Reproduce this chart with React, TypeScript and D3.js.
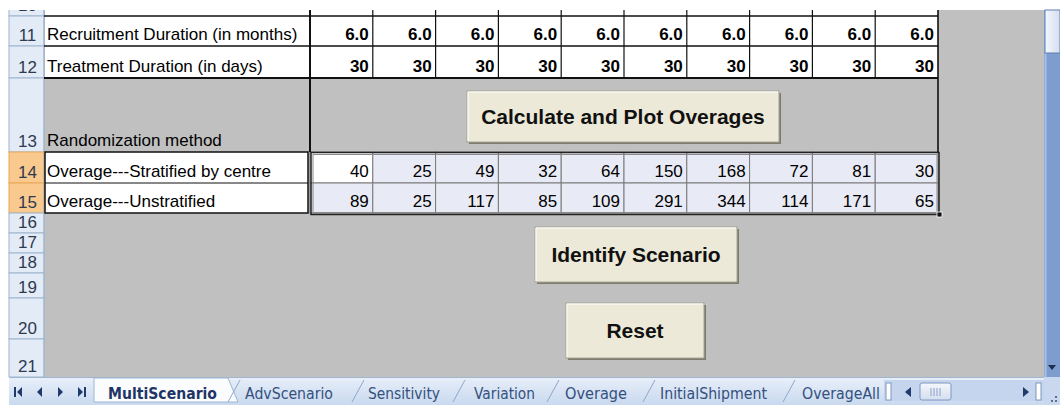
import React from 'react';
import * as d3 from 'd3';

const W = 1060;
const H = 405;

// sheet content
const rowNumbers = [10, 11, 12, 13, 14, 15, 16, 17, 18, 19, 20, 21];
const scenarios = ['S1', 'S2', 'S3', 'S4', 'S5', 'S6', 'S7', 'S8', 'S9', 'S10'];
const rowLabels = [
  'Risk Level',
  'Recruitment Duration (in months)',
  'Treatment Duration (in days)',
  'Randomization method',
  'Overage---Stratified by centre',
  'Overage---Unstratified',
];
const riskLevel = [0.05, 0.05, 0.05, 0.05, 0.05, 0.05, 0.05, 0.05, 0.05, 0.05];
const recruitment = [6.0, 6.0, 6.0, 6.0, 6.0, 6.0, 6.0, 6.0, 6.0, 6.0];
const treatment = [30, 30, 30, 30, 30, 30, 30, 30, 30, 30];
const stratified = [40, 25, 49, 32, 64, 150, 168, 72, 81, 30];
const unstratified = [89, 25, 117, 85, 109, 291, 344, 114, 171, 65];
const buttons = ['Calculate and Plot Overages', 'Identify Scenario', 'Reset'];
const sheetTabs = ['MultiScenario', 'AdvScenario', 'Sensitivity', 'Variation', 'Overage', 'InitialShipment', 'OverageAll'];

// layout
const rowHeights = [30, 30, 32, 74, 31, 30, 20, 20, 20, 25, 41, 38];
const headerX0 = 9;
const colA0 = 44;
const colA1 = 310;
const dataX1 = 938;
const tabBarY = 377;
const buttonBoxes = [
  [467, 91, 779, 142],
  [535, 227, 737, 282],
  [566, 303, 704, 358],
];
const tabTextX = [108, 245, 368, 474, 565, 660, 802];
const tabTextW = [109, 88, 72, 61, 62, 107, 78];
const tabSlashes = [228, 352, 453, 547, 643, 783];

const font = '"Liberation Sans", Arial, sans-serif';

export default function App() {
  const rowTop = d3.cumsum([-14, ...rowHeights.slice(0, -1)]);
  const y = (i: number) => rowTop[i];
  const rh = (i: number) => rowHeights[i];
  const x = d3.scaleBand<number>().domain(d3.range(scenarios.length)).range([colA1, dataX1]);

  const valueRows: [number, (number | string)[], boolean][] = [
    [0, riskLevel.map(d => d3.format('.2f')(d)), true],
    [1, recruitment.map(d => d3.format('.1f')(d)), true],
    [2, treatment, true],
    [4, stratified, false],
    [5, unstratified, false],
  ];

  const y14 = y(4);
  const y16 = y(6);

  return (
    <svg
      width={W}
      height={H}
      style={{ position: 'absolute', left: 0, top: 0, background: '#fff' }}
      fontFamily={font}
    >
      <defs>
        <clipPath id="sheet">
          <rect x={0} y={10} width={1044} height={tabBarY - 10} />
        </clipPath>
        <linearGradient id="tabbar" x1="0" y1="0" x2="0" y2="1">
          <stop offset="0" stopColor="#e9f0fa" />
          <stop offset="1" stopColor="#c9d9ef" />
        </linearGradient>
        <linearGradient id="tabInactive" x1="0" y1="0" x2="0" y2="1">
          <stop offset="0" stopColor="#e4ecf8" />
          <stop offset="1" stopColor="#cddcf0" />
        </linearGradient>
        <linearGradient id="thumb" x1="0" y1="0" x2="1" y2="0">
          <stop offset="0" stopColor="#f4f7fc" />
          <stop offset="1" stopColor="#d4deee" />
        </linearGradient>
        <linearGradient id="thumbH" x1="0" y1="0" x2="0" y2="1">
          <stop offset="0" stopColor="#f4f7fc" />
          <stop offset="1" stopColor="#d4deee" />
        </linearGradient>
      </defs>

      <g clipPath="url(#sheet)">
        {/* grey worksheet background */}
        <rect x={headerX0} y={0} width={1044 - headerX0} height={tabBarY} fill="#c0c0c0" />

        {/* row headers */}
        {rowNumbers.map((n, i) => {
          const sel = n === 14 || n === 15;
          return (
            <g key={n}>
              <rect
                x={headerX0}
                y={y(i)}
                width={colA0 - headerX0}
                height={rh(i)}
                fill={sel ? '#f9c98d' : '#e3ebf6'}
                stroke={sel ? '#e8a75a' : '#9eb6ce'}
                strokeWidth={1}
              />
              <text
                x={(headerX0 + colA0) / 2 + 1}
                y={y(i) + rh(i) - 5}
                textAnchor="middle"
                fontSize={17}
                fill="#2e3a50"
              >
                {n}
              </text>
            </g>
          );
        })}
        <line x1={colA0} x2={colA0} y1={0} y2={tabBarY} stroke="#9eb6ce" />

        {/* white cells rows 10-12 */}
        {[0, 1, 2].map(i => (
          <rect key={i} x={colA0 + 1} y={y(i)} width={dataX1 - colA0 - 1} height={rh(i)} fill="#fff" />
        ))}

        {/* column A rows 14-15 */}
        <rect x={colA0 + 1} y={y14} width={colA1 - colA0 - 3} height={y16 - y14} fill="#fff" stroke="#111" strokeWidth={1.5} />
        <line x1={colA0 + 1} x2={colA1 - 2} y1={y(5)} y2={y(5)} stroke="#111" strokeWidth={1} />

        {/* data block rows 14-15 */}
        {[4, 5].map(i =>
          scenarios.map((_, j) => (
            <rect
              key={`${i}-${j}`}
              x={x(j)!}
              y={y(i)}
              width={x.bandwidth()}
              height={rh(i)}
              fill={i === 4 && j === 0 ? '#fff' : '#e8eaf5'}
              stroke="#7a7a7a"
              strokeWidth={1}
            />
          ))
        )}
        <rect x={colA1 + 1} y={y14 + 0.5} width={dataX1 - colA1} height={y16 - y14 + 1} fill="none" stroke="#222" strokeWidth={1.5} />
        <rect x={colA1 + 3} y={y14 + 2.5} width={dataX1 - colA1 - 4} height={y16 - y14 - 3} fill="none" stroke="#8a8a8a" strokeWidth={1} />
        <rect x={dataX1 - 1} y={y16 - 1} width={5} height={5} fill="#111" stroke="#fff" strokeWidth={0.8} />

        {/* grid rows 10-12 */}
        {[0, 1, 2, 3].map(i => (
          <line key={i} x1={colA0} x2={dataX1} y1={y(i)} y2={y(i)} stroke="#111" strokeWidth={i === 3 ? 2 : 1.3} />
        ))}
        {scenarios.map((_, j) => (
          <line key={j} x1={x(j)!} x2={x(j)!} y1={y(0)} y2={y(3)} stroke="#111" strokeWidth={1.2} />
        ))}
        <line x1={colA1} x2={colA1} y1={y(0)} y2={y14} stroke="#111" strokeWidth={2} />
        <line x1={dataX1} x2={dataX1} y1={y(0)} y2={y14} stroke="#111" strokeWidth={1.6} />

        {/* labels */}
        {rowLabels.map((t, i) => (
          <text key={t} x={colA0 + 3} y={y(i) + rh(i) - 6} fontSize={17} fill="#000">
            {t}
          </text>
        ))}

        {/* values */}
        {valueRows.map(([ri, vals, bold]) =>
          vals.map((v, j) => (
            <text
              key={`${ri}-${j}`}
              x={x(j)! + x.bandwidth() - 4}
              y={y(ri) + rh(ri) - 6}
              textAnchor="end"
              fontSize={17}
              fontWeight={bold ? 'bold' : 'normal'}
              fill="#000"
            >
              {v}
            </text>
          ))
        )}

        {/* buttons */}
        {buttons.map((b, i) => {
          const [bx0, by0, bx1, by1] = buttonBoxes[i];
          return (
            <g key={b}>
              <rect x={bx0 + 2} y={by0 + 2} width={bx1 - bx0} height={by1 - by0} fill="#7d7a6e" />
              <rect x={bx0} y={by0} width={bx1 - bx0} height={by1 - by0} fill="#ece9d8" stroke="#a8a595" strokeWidth={1} />
              <line x1={bx0 + 1} x2={bx1 - 1} y1={by0 + 1} y2={by0 + 1} stroke="#fff" />
              <line x1={bx0 + 1} x2={bx0 + 1} y1={by0 + 1} y2={by1 - 1} stroke="#fff" />
              <text
                x={(bx0 + bx1) / 2}
                y={(by0 + by1) / 2 + 7}
                textAnchor="middle"
                fontSize={21}
                fontWeight="bold"
                fill="#111"
              >
                {b}
              </text>
            </g>
          );
        })}
      </g>

      {/* vertical scrollbar */}
      <rect x={1044} y={10} width={16} height={tabBarY - 10} fill="#7c9dcd" />
      <line x1={1045.5} x2={1045.5} y1={10} y2={tabBarY} stroke="#a9c0e4" strokeWidth={2} />
      <rect x={1045} y={10} width={15} height={43} fill="url(#thumb)" stroke="#5f7fb5" strokeWidth={1} />
      <path d="M1048,365 L1056,365 L1052,370 Z" fill="#1f2f4f" />

      {/* sheet tab bar */}
      <rect x={0} y={tabBarY} width={W} height={H - tabBarY} fill="url(#tabbar)" />
      <line x1={0} x2={W} y1={tabBarY + 0.5} y2={tabBarY + 0.5} stroke="#9eb6ce" />
      <rect x={0} y={tabBarY} width={9} height={H - tabBarY} fill="#fff" />
      <rect x={94} y={tabBarY + 3} width={690} height={21} fill="url(#tabInactive)" />
      <path
        d={`M94,${tabBarY + 1} L${tabSlashes[0]},${tabBarY + 1} L${tabSlashes[0] + 10},${H - 3} L94,${H - 3} Z`}
        fill="#fbfcfe"
        stroke="#9eb6ce"
      />
      {tabSlashes.map(sx => (
        <path key={sx} d={`M${sx},${H - 3} L${sx + 12},${tabBarY + 3}`} stroke="#8ea7c9" strokeWidth={1} fill="none" />
      ))}
      {sheetTabs.map((t, i) => (
        <text
          key={t}
          x={tabTextX[i]}
          y={H - 6}
          fontSize={15}
          fontFamily='"DejaVu Sans", Verdana, sans-serif'
          fontWeight={i === 0 ? 'bold' : 'normal'}
          fill={i === 0 ? '#1e3566' : '#34507e'}
          textLength={tabTextW[i]}
          lengthAdjust="spacingAndGlyphs"
        >
          {t}
        </text>
      ))}

      {/* tab navigation arrows */}
      <g fill="#1f3a6b">
        <rect x={14} y={387} width={2} height={10} />
        <path d="M22,387 L22,397 L17,392 Z" />
        <path d="M42,387 L42,397 L37,392 Z" />
        <path d="M58,387 L58,397 L63,392 Z" />
        <path d="M78,387 L78,397 L83,392 Z" />
        <rect x={84} y={387} width={2} height={10} />
      </g>

      {/* horizontal scrollbar */}
      <rect x={884} y={tabBarY + 3} width={160} height={21} fill="#c5d5ee" />
      <rect x={886} y={383} width={5} height={17} fill="#fff" stroke="#7f98c0" />
      <path d="M911,387 L911,397 L905,392 Z" fill="#1f3a6b" />
      <rect x={920} y={383} width={31} height={17} rx={2} fill="url(#thumbH)" stroke="#7f98c0" />
      <g stroke="#8aa0c4">
        <line x1={931} x2={931} y1={388} y2={396} />
        <line x1={934} x2={934} y1={388} y2={396} />
        <line x1={937} x2={937} y1={388} y2={396} />
        <line x1={940} x2={940} y1={388} y2={396} />
      </g>
      <path d="M1023,387 L1023,397 L1029,392 Z" fill="#1f3a6b" />
      <rect x={1036} y={383} width={5} height={17} fill="#fff" stroke="#7f98c0" />
      <rect x={1044} y={tabBarY} width={16} height={H - tabBarY} fill="#c9d8ee" />
      <g fill="#5e6f8c">
        <rect x={1055} y={396} width={2} height={2} />
        <rect x={1051} y={400} width={2} height={2} />
        <rect x={1055} y={400} width={2} height={2} />
      </g>
    </svg>
  );
}
